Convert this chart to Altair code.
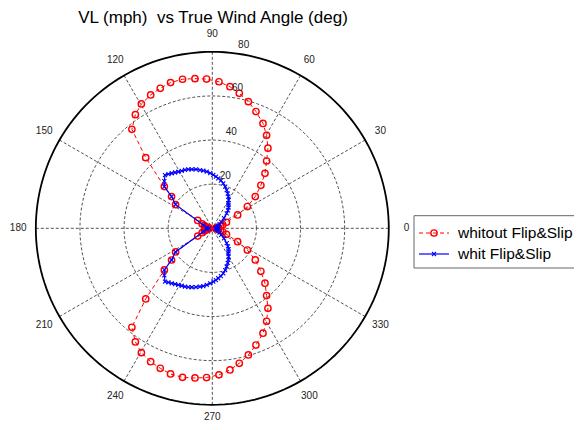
import altair as alt
import numpy as np
import pandas as pd

# ---------------- data ----------------
RED_ANGLE = [0, 4.6, 9.2, 13.8, 18.5, 23.1, 27.8, 31.8, 36.4, 41.5, 46.2, 51.1, 55.2, 59.7,
             64.2, 69.5, 74.1, 78.7, 82.9, 87.4, 92.2, 96.6, 101.3, 106.0, 110.4, 114.8,
             119.7, 124.1, 129.1, 133.3, 139.0, 142.1, 147.2, 151.8, 156.4, 161.0, 165.6,
             170.2, 174.8, 180,
             185.2, 189.8, 194.4, 199.0, 203.6, 208.2, 212.8, 217.9, 221.0, 226.7, 230.9,
             235.9, 240.3, 245.2, 249.6, 254.0, 258.7, 263.4, 267.8, 272.6, 277.1, 281.3,
             285.9, 290.5, 295.8, 300.3, 304.8, 308.9, 313.8, 318.5, 323.6, 328.2, 332.2,
             336.9, 341.5, 346.2, 350.8, 355.4, 360]
RED_R = [1.5, 2.0, 2.8, 3.8, 5.0, 7.0, 13.0, 18.7, 24.2, 29.4, 34.5, 39.2, 44.2, 48.8,
         52.8, 56.5, 59.7, 62.4, 64.7, 66.5, 67.7, 68.3, 68.9, 68.7, 67.7, 66.6,
         64.9, 62.2, 57.8, 44.0, 28.8, 23.4, 19.8, 7.5, 5.0, 3.8, 2.8,
         2.0, 1.6, 1.5,
         1.6, 2.0, 2.8, 3.8, 5.0, 7.5, 19.8, 23.4, 28.8, 44.0, 57.8,
         62.2, 64.9, 66.6, 67.7, 68.7, 68.9, 68.3, 67.7, 66.5, 64.7, 62.4,
         59.7, 56.5, 52.8, 48.8, 44.2, 39.2, 34.5, 29.4, 24.2, 18.7, 13.0,
         7.0, 5.0, 3.8, 2.8, 2.0, 1.5]

BLUE_ANGLE = [0, 6, 12, 18, 24, 30, 36, 41, 46, 49, 52, 55, 57.4, 60, 63.1, 66, 69.4, 72.8,
              76.3, 79.8, 83.2, 86, 88.9, 92.2, 95.6, 98.8, 101.9, 105.5, 109.2, 112.2,
              115.1, 118, 121, 123.7, 126.4, 129, 131.6, 135.5, 139.0, 142.1, 147.2, 160,
              170, 180,
              190, 200, 212.8, 217.9, 221.0, 224.5, 228.4, 231, 233.6, 236.3, 239, 242,
              244.9, 247.8, 250.8, 254.5, 258.1, 261.2, 264.4, 267.8, 271.1, 274, 276.8,
              280.2, 283.7, 287.2, 290.6, 294, 296.9, 300, 302.6, 305, 308, 311, 314, 319,
              324, 330, 336, 342, 348, 354, 360]
BLUE_R = [1.5, 1.8, 2.2, 2.6, 3.1, 3.8, 5.0, 7.0, 9.4, 10.8, 12.0, 12.8, 13.5, 14.8, 16.1,
          17.2, 18.5, 19.8, 21.0, 22.0, 22.8, 23.5, 24.2, 25.0, 25.8, 26.5, 27.0, 27.7,
          28.3, 28.8, 29.2, 29.5, 29.9, 30.4, 31.0, 31.6, 32.3, 30.5, 28.8, 23.4, 19.8,
          4.3, 2.5, 1.5,
          2.5, 4.3, 19.8, 23.4, 28.8, 30.5, 32.3, 31.6, 31.0, 30.4, 29.9, 29.5, 29.2,
          28.8, 28.3, 27.7, 27.0, 26.5, 25.8, 25.0, 24.2, 23.5, 22.8, 22.0, 21.0, 19.8,
          18.5, 17.2, 16.1, 14.8, 13.5, 12.8, 12.0, 10.8, 9.4, 7.0, 5.0, 3.8, 3.1, 2.6,
          2.2, 1.8, 1.5]

RING_R = [20, 40, 60]
OUTER_R = 80
SPOKE_ANGLES = [0, 30, 60, 90, 120, 150]
ANGLE_LABELS = [0, 30, 60, 90, 120, 150, 180, 210, 240, 270, 300, 330]
RADIAL_LABELS = [20, 40, 60, 80]
TITLE = "VL (mph)\u00a0 vs True Wind Angle (deg)"
SERIES = ["whitout Flip&Slip", "whit Flip&Slip"]

# ---------------- geometry ----------------
W, H = 566, 414
CX, CY = 204.3, 220.3      # pole position inside the plot area (px)
K = 2.206                  # px per unit
XMIN, XMAX = -CX / K, (W - CX) / K
YMAX, YMIN = CY / K, -(H - CY) / K


def to_data(px, py):
    return XMIN + px / K, YMAX - py / K


xs = alt.Scale(domain=[XMIN, XMAX], nice=False, zero=False)
ys = alt.Scale(domain=[YMIN, YMAX], nice=False, zero=False)
X = lambda f: alt.X(f, type="quantitative", scale=xs, axis=None)
Y = lambda f: alt.Y(f, type="quantitative", scale=ys, axis=None)

polar = dict(x="datum.r * cos(datum.a * PI / 180)", y="datum.r * sin(datum.a * PI / 180)")

# grid circles
circ_a = np.arange(0, 362, 2)
rings = pd.DataFrame([{"r": r, "a": a, "g": r} for r in RING_R for a in circ_a])
outer = pd.DataFrame({"r": OUTER_R, "a": circ_a})

GRID = "#333333"
ring_layer = alt.Chart(rings).transform_calculate(**polar).mark_line(
    color=GRID, strokeDash=[3, 2], strokeWidth=0.85
).encode(x=X("x"), y=Y("y"), detail="g:N", order="a:Q")

spoke_df = pd.DataFrame({"a": SPOKE_ANGLES})
spoke_layer = alt.Chart(spoke_df).transform_calculate(
    x=f"{OUTER_R} * cos(datum.a * PI / 180)", y=f"{OUTER_R} * sin(datum.a * PI / 180)",
    x2=f"-{OUTER_R} * cos(datum.a * PI / 180)", y2=f"-{OUTER_R} * sin(datum.a * PI / 180)"
).mark_rule(color=GRID, strokeDash=[3, 2], strokeWidth=0.85).encode(
    x=X("x"), y=Y("y"), x2="x2:Q", y2="y2:Q")

outer_layer = alt.Chart(outer).transform_calculate(**polar).mark_line(
    color="black", strokeWidth=1.8
).encode(x=X("x"), y=Y("y"), order="a:Q")

red_df = pd.DataFrame({"a": RED_ANGLE, "r": RED_R, "i": range(len(RED_R))})
blue_df = pd.DataFrame({"a": BLUE_ANGLE, "r": BLUE_R, "i": range(len(BLUE_R))})

red_base = alt.Chart(red_df).transform_calculate(**polar).encode(
    x=X("x"), y=Y("y"), order="i:Q")
red_line = red_base.mark_line(color="#ff0000", strokeDash=[4, 3], strokeWidth=1)
red_pts = red_base.mark_point(shape="circle", filled=False, size=40, color="#ff0000",
                              strokeWidth=1.4, opacity=1)

XSHAPE = "M-1,-1L1,1M-1,1L1,-1"
blue_base = alt.Chart(blue_df).transform_calculate(**polar).encode(
    x=X("x"), y=Y("y"), order="i:Q")
blue_line = blue_base.mark_line(color="#0000ff", strokeWidth=1.2)
blue_pts = blue_base.mark_point(shape=XSHAPE, size=16, color="#0000ff",
                                strokeWidth=1.1, opacity=1)

# angle labels (the bottom one is nudged up so that it stays inside the page)
alab = pd.DataFrame({"a": ANGLE_LABELS, "t": [str(v) for v in ANGLE_LABELS],
                     "rr": [85.5 if v == 270 else 88 for v in ANGLE_LABELS]})
alab_layer = alt.Chart(alab).transform_calculate(
    x="datum.rr * cos(datum.a * PI / 180)", y="datum.rr * sin(datum.a * PI / 180)"
).mark_text(font="Liberation Sans", fontSize=10, color="#222", align="center",
            baseline="middle").encode(x=X("x"), y=Y("y"), text="t:N")

# radial labels
rlab = pd.DataFrame({"r": RADIAL_LABELS, "t": [str(v) for v in RADIAL_LABELS]})
rlab_layer = alt.Chart(rlab).transform_calculate(
    x="(datum.r + 4) * cos(82 * PI / 180)", y="(datum.r + 4) * sin(82 * PI / 180)"
).mark_text(font="Liberation Sans", fontSize=10, color="#222", align="left",
            baseline="middle").encode(x=X("x"), y=Y("y"), text="t:N")

# title (alphabetic baseline, kept fully inside the top edge)
tx, ty = to_data(205, 14.5)
title_layer = alt.Chart(pd.DataFrame({"x": [tx], "y": [ty], "t": [TITLE]})).mark_text(
    font="Liberation Sans", fontSize=17, color="black", align="center",
    baseline="alphabetic"
).encode(x=X("x"), y=Y("y"), text="t:N")

# legend (page px minus the 8px margin)
bx1, by1 = to_data(406, 207.7)
bx2, by2 = to_data(600, 260)
box = alt.Chart(pd.DataFrame({"x": [bx1], "y": [by1], "x2": [bx2], "y2": [by2]})).mark_rect(
    fill="white", stroke="#666", strokeWidth=1
).encode(x=X("x"), y=Y("y"), x2="x2:Q", y2="y2:Q")

lx1, _ = to_data(411, 0)
lx2, _ = to_data(441, 0)
lxm, _ = to_data(426, 0)
ltx, _ = to_data(450, 0)
_, ly1 = to_data(0, 225)
_, ly2 = to_data(0, 246)
leg = pd.DataFrame({"x": [lx1, lx1], "x2": [lx2, lx2], "xm": [lxm, lxm], "xt": [ltx, ltx],
                    "y": [ly1, ly2], "t": SERIES})
leg_red_line = alt.Chart(leg.iloc[[0]]).mark_rule(
    color="#ff0000", strokeDash=[4, 3], strokeWidth=1
).encode(x=X("x"), x2="x2:Q", y=Y("y"))
leg_red_pt = alt.Chart(leg.iloc[[0]]).mark_point(
    shape="circle", filled=False, size=40, color="#ff0000", strokeWidth=1.4, opacity=1
).encode(x=X("xm"), y=Y("y"))
leg_blue_line = alt.Chart(leg.iloc[[1]]).mark_rule(color="#0000ff", strokeWidth=1.2).encode(
    x=X("x"), x2="x2:Q", y=Y("y"))
leg_blue_pt = alt.Chart(leg.iloc[[1]]).mark_point(
    shape=XSHAPE, size=16, color="#0000ff", strokeWidth=1.1, opacity=1
).encode(x=X("xm"), y=Y("y"))
leg_text = alt.Chart(leg).mark_text(
    font="Liberation Sans", fontSize=15.5, color="black", align="left", baseline="middle"
).encode(x=X("xt"), y=Y("y"), text="t:N")

chart = alt.layer(
    ring_layer, spoke_layer, outer_layer,
    red_line, red_pts, blue_line, blue_pts,
    alab_layer, rlab_layer, title_layer,
    box, leg_red_line, leg_red_pt, leg_blue_line, leg_blue_pt, leg_text,
).properties(
    width=W, height=H, padding=0, autosize=alt.AutoSizeParams(type="none"),
    background="white"
).configure_view(stroke=None)

chart.save("out.html", embed_options={"renderer": "svg", "actions": False})
